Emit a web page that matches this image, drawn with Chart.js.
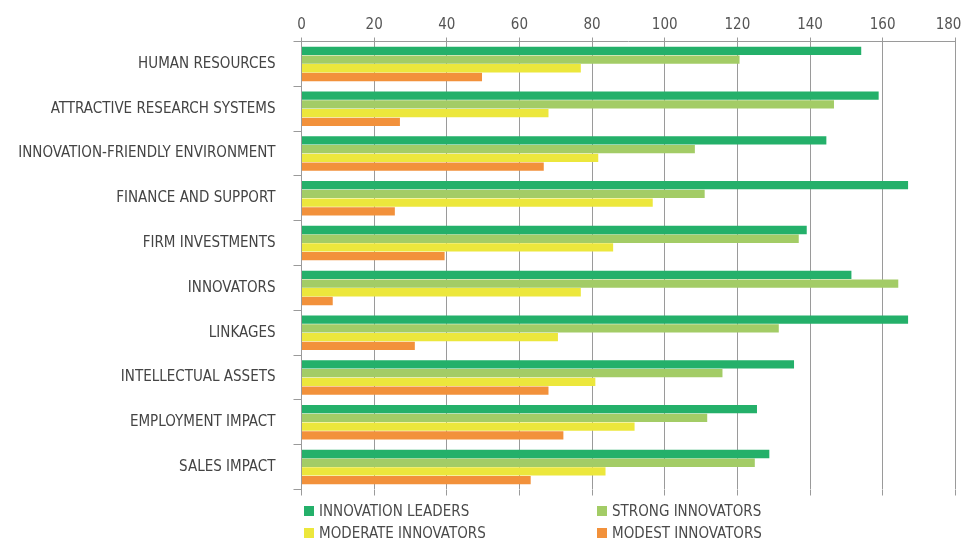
<!DOCTYPE html>
<html>
<head>
<meta charset="utf-8">
<script src="https://cdn.jsdelivr.net/npm/chart.js@4/dist/chart.umd.min.js"></script>
<style>
    html, body { margin: 0; padding: 0; background: #fff; }
    #wrap { position: relative; width: 966px; height: 541px; }
    #legend { position: absolute; left: 0; top: 0; font-family: 'DejaVu Sans Condensed', sans-serif; font-size: 15px; color: #4a4a4a; }
    .legend-item { position: absolute; display: flex; align-items: center; white-space: nowrap; height: 16px; line-height: 16px; }
    .legend-box { width: 10px; height: 10px; margin-right: 5px; }
</style>
</head>
<body>
<div id="wrap">
    <canvas id="pillarChart" width="966" height="541"></canvas>
    <div id="legend"></div>
</div>
<script>
const categories = [
    'HUMAN RESOURCES',
    'ATTRACTIVE RESEARCH SYSTEMS',
    'INNOVATION-FRIENDLY ENVIRONMENT',
    'FINANCE AND SUPPORT',
    'FIRM INVESTMENTS',
    'INNOVATORS',
    'LINKAGES',
    'INTELLECTUAL ASSETS',
    'EMPLOYMENT IMPACT',
    'SALES IMPACT'
];
const innovationLeaders = [154.1, 158.9, 144.5, 167.0, 139.1, 151.4, 167.0, 135.6, 125.4, 128.8];
const strongInnovators = [120.6, 146.6, 108.3, 111.0, 136.9, 164.3, 131.4, 115.9, 111.7, 124.8];
const moderateInnovators = [76.9, 68.0, 81.7, 96.7, 85.8, 76.9, 70.6, 80.9, 91.7, 83.7];
const modestInnovators = [49.7, 27.1, 66.7, 25.7, 39.4, 8.6, 31.2, 68.0, 72.1, 63.1];
const xTickValues = [0, 20, 40, 60, 80, 100, 120, 140, 160, 180];

const FONT = "'DejaVu Sans Condensed', sans-serif";
const GRID = '#9a9a9a';

// legend slots: two columns, two rows
const legendSlots = [
    { left: 304, top: 503 },
    { left: 597, top: 503 },
    { left: 304, top: 525 },
    { left: 597, top: 525 }
];

function setTicks(scale) {
    scale.ticks = xTickValues.map(v => ({ value: v }));
}

// let the last tick label hang over the right padding
function noSidePadding(scale) {
    scale.paddingLeft = 0;
    scale.paddingRight = 0;
}

const ctx = document.getElementById('pillarChart').getContext('2d');
const pillarChart = new Chart(ctx, {
    type: 'bar',
    data: {
        labels: categories,
        datasets: [
            { label: 'INNOVATION LEADERS', data: innovationLeaders, backgroundColor: '#24b06a' },
            { label: 'STRONG INNOVATORS', data: strongInnovators, backgroundColor: '#a3cc66' },
            { label: 'MODERATE INNOVATORS', data: moderateInnovators, backgroundColor: '#ece73c' },
            { label: 'MODEST INNOVATORS', data: modestInnovators, backgroundColor: '#f2913b' }
        ]
    },
    options: {
        indexAxis: 'y',
        responsive: false,
        animation: false,
        categoryPercentage: 0.78,
        barPercentage: 0.95,
        layout: {
            padding: { top: 0, left: 0, right: 10.7, bottom: 45.5 }
        },
        plugins: {
            legend: { display: false },
            tooltip: { enabled: false }
        },
        scales: {
            x: {
                position: 'top',
                min: 0,
                max: 180,
                afterBuildTicks: setTicks,
                afterFit: function(scale) {
                    scale.height = 41.5;
                    noSidePadding(scale);
                },
                grid: { color: GRID, lineWidth: 1, tickLength: 4 },
                border: { color: GRID },
                ticks: {
                    color: '#555',
                    padding: 3,
                    font: { family: FONT, size: 15 },
                    // nudge the last label in so it stays inside the canvas
                    callback: function(value, index, ticks) {
                        return index === ticks.length - 1 ? value + '\u2003' : value;
                    }
                }
            },
            x2: {
                position: 'bottom',
                min: 0,
                max: 180,
                afterBuildTicks: setTicks,
                afterFit: noSidePadding,
                grid: { color: GRID, drawOnChartArea: false, tickLength: 6 },
                border: { display: false },
                ticks: { display: false }
            },
            y: {
                afterFit: function(scale) { scale.width = 301.5; },
                grid: { offset: true, drawOnChartArea: false, color: GRID, tickLength: 8 },
                border: { color: GRID },
                ticks: {
                    color: '#444',
                    padding: 18,
                    font: { family: FONT, size: 15 }
                }
            }
        }
    }
});

// Build the two-column legend from the chart's datasets
const legendEl = document.getElementById('legend');
pillarChart.data.datasets.forEach((ds, i) => {
    const item = document.createElement('div');
    item.className = 'legend-item';
    item.style.left = legendSlots[i].left + 'px';
    item.style.top = legendSlots[i].top + 'px';
    const box = document.createElement('span');
    box.className = 'legend-box';
    box.style.background = ds.backgroundColor;
    const text = document.createElement('span');
    text.textContent = ds.label;
    item.appendChild(box);
    item.appendChild(text);
    legendEl.appendChild(item);
});
</script>
</body>
</html>
